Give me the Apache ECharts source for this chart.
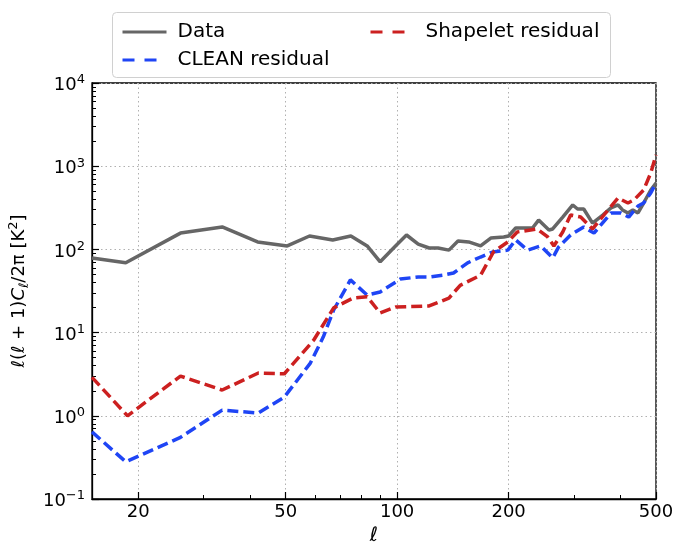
<!DOCTYPE html>
<html>
<head>
<meta charset="UTF-8">
<title>power spectrum</title>
<script src="https://cdn.jsdelivr.net/npm/echarts@6/dist/echarts.min.js"></script>
<style>
  *{margin:0;padding:0}
  html,body{width:100%;height:100%;background:#fff}
  #main{width:676px;height:542px}
</style>
</head>
<body>
<div id="main"></div>
<script type="text/javascript">
// multipole ell and l(l+1)C_l/2pi values
var dataL = [15, 18.5, 26, 33.7, 42, 50.5, 58, 67, 75, 83, 90, 99, 106, 114, 122, 129, 138, 146, 156, 168, 179, 194, 200, 209, 232, 241, 257, 263, 280, 298, 307, 319, 337, 359, 378, 395, 406, 420, 433, 447, 463, 484, 500];
var dataV = [79, 69, 157, 186, 123, 110, 145, 130, 145, 110, 71, 110, 149, 116, 104, 104, 98, 126, 123, 110, 137, 141, 145, 181, 181, 225, 171, 176, 245, 342, 306, 306, 207, 259, 315, 342, 298, 274, 298, 274, 361, 518, 628];

var cleanL = [15, 18.5, 26, 33.7, 42.2, 49.6, 58.3, 63.2, 67.4, 74.8, 83, 90, 102, 114, 122, 133, 142, 155, 168, 181, 199, 209, 225, 244, 263, 273, 294, 319, 340, 378, 402, 422, 447, 463, 484, 500];
var cleanV = [0.64, 0.28, 0.55, 1.17, 1.08, 1.68, 4.3, 8.9, 18.7, 43, 28.3, 30.8, 44, 46.6, 46.6, 49, 52, 69, 81, 93, 98, 130, 98, 110, 79, 107, 149, 186, 157, 274, 274, 245, 332, 361, 476, 628];

var shapeL = [15, 18.7, 26, 33.7, 42.2, 49.6, 59.5, 67.4, 76, 83, 90, 99, 122, 138, 148, 168, 182, 199, 211, 239, 255, 265, 280, 294, 313, 337, 371, 395, 420, 436, 463, 484, 500];
var shapeV = [2.9, 1.0, 3.0, 2.04, 3.27, 3.2, 8.1, 19.8, 26, 27, 17.2, 20.3, 20.9, 26, 37, 49, 93, 123, 162, 176, 141, 110, 162, 259, 245, 176, 297, 415, 361, 393, 518, 828, 1365];

var xLabels = [20, 50, 100, 200, 500];
var xMinor = [20, 30, 40, 50, 60, 70, 80, 90, 100, 200, 300, 400, 500];
var yMajor = [0.1, 1, 10, 100, 1000, 10000];

function pairs(xs, ys) {
    var out = [];
    for (var i = 0; i < xs.length; i++) out.push([xs[i], ys[i]]);
    return out;
}
var yMinor = [];
for (var e = -1; e < 4; e++) {
    for (var k = 1; k < 10; k++) yMinor.push(+(k * Math.pow(10, e)).toPrecision(3));
}
yMinor.push(10000);

var FONT = 'DejaVu Sans';
var myChart = echarts.init(document.getElementById('main'));

function supLabel(v) {
    var p = Math.round(Math.log10(v));
    return '10{sup|' + (p < 0 ? '\u2212' + (-p) : p) + '}';
}

var legendText = {fontSize: 20, color: '#000', fontFamily: FONT, padding: [0, 0, 0, 6]};
var legendDash = {width: 3, type: [12, 10]};

var option = {
    animation: false,
    textStyle: {fontFamily: FONT},
    grid: {left: 92, right: 20, top: 83, bottom: 43, outerBoundsMode: 'none', containLabel: false,
           show: true, borderColor: '#000', borderWidth: 1.3, backgroundColor: 'transparent'},
    graphic: [{
        type: 'rect', left: 112, top: 12, z: 0,
        shape: {width: 498, height: 65, r: 4},
        style: {fill: '#fff', stroke: '#d0d0d0', lineWidth: 1}
    }],
    legend: [{
        left: 116, top: 17, orient: 'vertical', itemGap: 8,
        itemWidth: 44, itemHeight: 14,
        itemStyle: {opacity: 0},
        lineStyle: {width: 3},
        data: ['Data', {name: 'CLEAN residual', lineStyle: legendDash}],
        textStyle: legendText
    }, {
        left: 364, top: 17, itemWidth: 44, itemHeight: 14,
        itemStyle: {opacity: 0},
        lineStyle: {width: 3},
        data: [{name: 'Shapelet residual', lineStyle: legendDash}],
        textStyle: legendText
    }],
    xAxis: [{
        type: 'log', logBase: 10, min: 15, max: 500,
        name: '\u2113', nameLocation: 'middle', nameGap: 27,
        nameTextStyle: {fontSize: 20, fontStyle: 'italic', color: '#000', fontFamily: FONT},
        axisLine: {lineStyle: {color: '#000', width: 1.3}},
        axisTick: {inside: true, length: 4, customValues: xMinor, lineStyle: {color: '#000', width: 1}},
        axisLabel: {customValues: xLabels, fontSize: 18, color: '#000', margin: 4, formatter: function (v) { return String(Math.round(v)); }},
        splitLine: {show: false}
    }, {
        type: 'log', logBase: 10, min: 15, max: 500, position: 'bottom',
        axisLine: {show: false},
        axisTick: {inside: true, length: 7, customValues: xLabels, lineStyle: {color: '#000', width: 1.2}},
        axisLabel: {show: false},
        splitLine: {show: true, lineStyle: {color: '#b0b0b0', type: [1.5, 3], width: 1}}
    }],
    yAxis: [{
        type: 'log', logBase: 10, min: 0.1, max: 10000,
        name: '{i|\u2113}(\u2113 + 1){i|C}{sub|\u2113}/2\u03c0 [K{sup|2}]',
        nameLocation: 'middle', nameGap: 61, nameRotate: 90,
        nameTextStyle: {
            fontSize: 18, color: '#000', fontFamily: FONT,
            rich: {
                i: {fontSize: 18, fontStyle: 'italic', color: '#000', fontFamily: FONT},
                sub: {fontSize: 13, fontStyle: 'italic', color: '#000', fontFamily: FONT, verticalAlign: 'bottom', lineHeight: 24},
                sup: {fontSize: 13, color: '#000', fontFamily: FONT, verticalAlign: 'top', lineHeight: 24}
            }
        },
        axisLine: {lineStyle: {color: '#000', width: 1.3}},
        axisTick: {inside: true, length: 4, customValues: yMinor, lineStyle: {color: '#000', width: 1}},
        axisLabel: {
            customValues: yMajor, fontSize: 18, color: '#000', margin: 7, lineHeight: 24,
            padding: [5, 0, 0, 0],
            formatter: supLabel,
            rich: {sup: {fontSize: 13, color: '#000', fontFamily: FONT, verticalAlign: 'top', lineHeight: 24}}
        },
        splitLine: {show: false}
    }, {
        type: 'log', logBase: 10, min: 0.1, max: 10000, position: 'left',
        axisLine: {show: false},
        axisTick: {inside: true, length: 7, customValues: yMajor, lineStyle: {color: '#000', width: 1.2}},
        axisLabel: {show: false},
        splitLine: {show: true, lineStyle: {color: '#b0b0b0', type: [1.5, 3], width: 1}}
    }],
    series: [{
        name: 'Data', type: 'line', showSymbol: false, symbol: 'none',
        data: pairs(dataL, dataV),
        lineStyle: {color: '#666666', width: 3.5},
        itemStyle: {color: '#666666'},
        z: 3
    }, {
        name: 'CLEAN residual', type: 'line', showSymbol: false, symbol: 'none',
        data: pairs(cleanL, cleanV),
        lineStyle: {color: '#1f45f5', width: 3.5, type: [11, 5]},
        itemStyle: {color: '#1f45f5'},
        z: 4
    }, {
        name: 'Shapelet residual', type: 'line', showSymbol: false, symbol: 'none',
        data: pairs(shapeL, shapeV),
        lineStyle: {color: '#cc2020', width: 3.5, type: [11, 5]},
        itemStyle: {color: '#cc2020'},
        z: 5
    }]
};
myChart.setOption(option);
</script>
</body>
</html>
